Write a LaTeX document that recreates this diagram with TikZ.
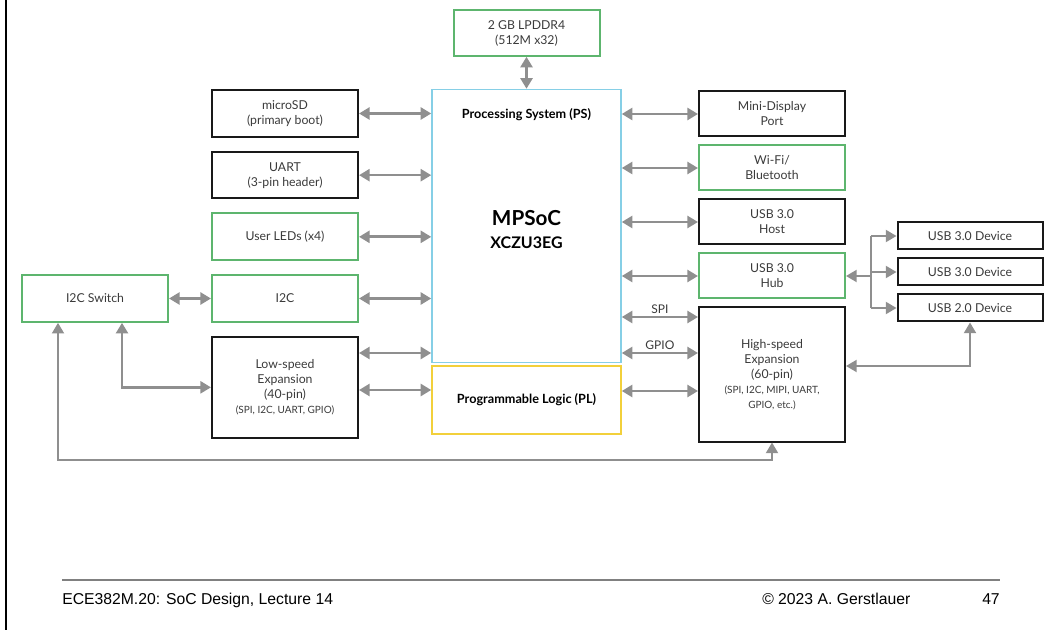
\documentclass[tikz,border=0pt]{standalone}
\usepackage{fontspec}
\setmainfont{Lato}
\newfontfamily\footfont{Liberation Sans}
\usepackage{xcolor}
\definecolor{boxgreen}{HTML}{5DB56E}
\definecolor{pscyan}{HTML}{86CFE6}
\definecolor{plyellow}{HTML}{F2D03B}
\definecolor{arrgray}{HTML}{8F8F8F}
\definecolor{txtgray}{HTML}{3A3A3A}
\usetikzlibrary{arrows.meta,positioning,calc}

\begin{document}
\begin{tikzpicture}[x=0.75pt,y=-0.75pt,
  blk/.style={draw=black!90,line width=1.5pt,align=center,inner sep=0pt,minimum width=109.5pt,minimum height=35pt,text=txtgray,font=\fontsize{9.2}{11.25}\selectfont},
  gblk/.style={blk,draw=boxgreen},
  rblk/.style={blk,minimum height=33.75pt},
  dev/.style={blk,minimum width=108.75pt,minimum height=20.25pt},
  big/.style={draw,line width=1.1pt,inner sep=0pt,minimum width=141.75pt,text=black,font=\bfseries\fontsize{9.5}{11.25}\selectfont},
  lbl/.style={text=txtgray,font=\fontsize{9}{10}\selectfont,inner sep=1.5pt},
  foot/.style={inner sep=0pt,font=\footfont\fontsize{11.8}{14}\selectfont},
  tip/.tip={Triangle[length=8pt,width=9pt]},
  arr/.style={tip-tip,draw=arrgray,line width=2pt},
  arrthin/.style={tip-tip,draw=arrgray,line width=1.5pt},
  arrL/.style={tip-,draw=arrgray,line width=1.5pt},
  arrR/.style={-tip,draw=arrgray,line width=1.5pt}]
\useasboundingbox (0,0) rectangle (1044,630);
\draw[line width=1.5pt] (6,0) -- (6,630);

\node[big,draw=pscyan,minimum height=204.75pt] (ps) at (526.5,226) {};
\node[text=black,font=\bfseries\fontsize{9.5}{11.25}\selectfont] (pstitle) at (526.5,115) {Processing System (PS)};
\node[text=black,font=\bfseries\fontsize{15.5}{18}\selectfont] (mpsoc) at (526.5,218) {MPSoC};
\node[text=black,font=\bfseries\fontsize{12}{14}\selectfont] (chip) at (526.5,243) {XCZU3EG};
\node[big,draw=plyellow,minimum height=51pt,below=1.5pt of ps] (pl) {Programmable Logic (PL)};
\node[gblk,minimum height=34pt,above=24pt of ps] (ddr) {2 GB LPDDR4\\(512M x32)};

\node[blk] (sd) at (285,113.5) {microSD\\(primary boot)};
\node[blk,below=9.75pt of sd] (uart) {UART\\(3-pin header)};
\node[gblk,below=9.75pt of uart] (led) {User LEDs (x4)};
\node[gblk,below=9.75pt of led] (i2c) {I2C};
\node[blk,below=9.75pt of i2c,minimum height=75.75pt] (lsx) {Low-speed\\Expansion\\(40-pin)\\{\fontsize{7.5}{9}\selectfont (SPI, I2C, UART, GPIO)}};
\node[gblk,left=31.5pt of i2c] (sw) {I2C Switch};

\node[rblk] (mdp) at (772,114) {Mini-Display\\Port};
\node[rblk,draw=boxgreen,below=5.25pt of mdp] (wifi) {Wi-Fi/\\Bluetooth};
\node[rblk,below=5.25pt of wifi] (host) {USB 3.0\\Host};
\node[rblk,draw=boxgreen,below=5.25pt of host] (hub) {USB 3.0\\Hub};
\node[blk,below=5.25pt of hub,minimum height=100.5pt] (hsx) {High-speed\\Expansion\\(60-pin)\\{\fontsize{7.5}{9}\selectfont (SPI, I2C, MIPI, UART,}\\{\fontsize{7.5}{9}\selectfont GPIO, etc.)}};

\node[dev] (dev1) at (970,236) {USB 3.0 Device};
\node[dev,below=5.25pt of dev1] (dev2) {USB 3.0 Device};
\node[dev,below=5.25pt of dev2] (dev3) {USB 2.0 Device};
\coordinate (hubj) at (871,0);

\draw[arr] (ddr) -- (ps);
\foreach \b in {sd,uart,led,i2c}
  \draw[arr] (\b.east) -- (\b.east -| ps.west);
\draw[arr] (lsx.east |- 0,353) -- (ps.west |- 0,353);
\draw[arr] (lsx.east |- 0,390) -- (pl.west |- 0,390);
\foreach \b in {mdp,wifi,host,hub}
  \draw[arr] (\b.west -| ps.east) -- (\b.west);
\draw[arr] (ps.east |- 0,317) -- node[lbl,above] (spi) {SPI} (hsx.west |- 0,317);
\draw[arr] (ps.east |- 0,353) -- node[lbl,above] (gpio) {GPIO} (hsx.west |- 0,353);
\draw[arr] (pl.east |- 0,391) -- (hsx.west |- 0,391);
\draw[arr] (sw) -- (i2c);
\draw[arr] (sw.south -| 122,0) |- (lsx.west);
\draw[arrthin] (sw.south -| 58,0) |- (hsx.south |- 0,460) -- (hsx.south);
\draw[arrthin] (hsx.east |- 0,366) -| (dev3.south);
\draw[arrL] (hub.east) -- (hub.east -| hubj);
\draw[draw=arrgray,line width=1.5pt] (hubj |- dev1.west) -- (hubj |- dev3.west);
\foreach \d in {dev1,dev2,dev3}
  \draw[arrR] (hubj |- \d.west) -- (\d.west);

\draw[draw=gray,line width=2.2pt] (62,580) -- (1000,580);
\node[foot,anchor=base west] (course) at (62,604) {ECE382M.20: SoC Design, Lecture 14};
\node[foot,anchor=base west] (copy) at (762,604) {© 2023 A. Gerstlauer};
\node[foot,anchor=base east] (page) at (1000,604) {47};
\end{tikzpicture}
\end{document}
